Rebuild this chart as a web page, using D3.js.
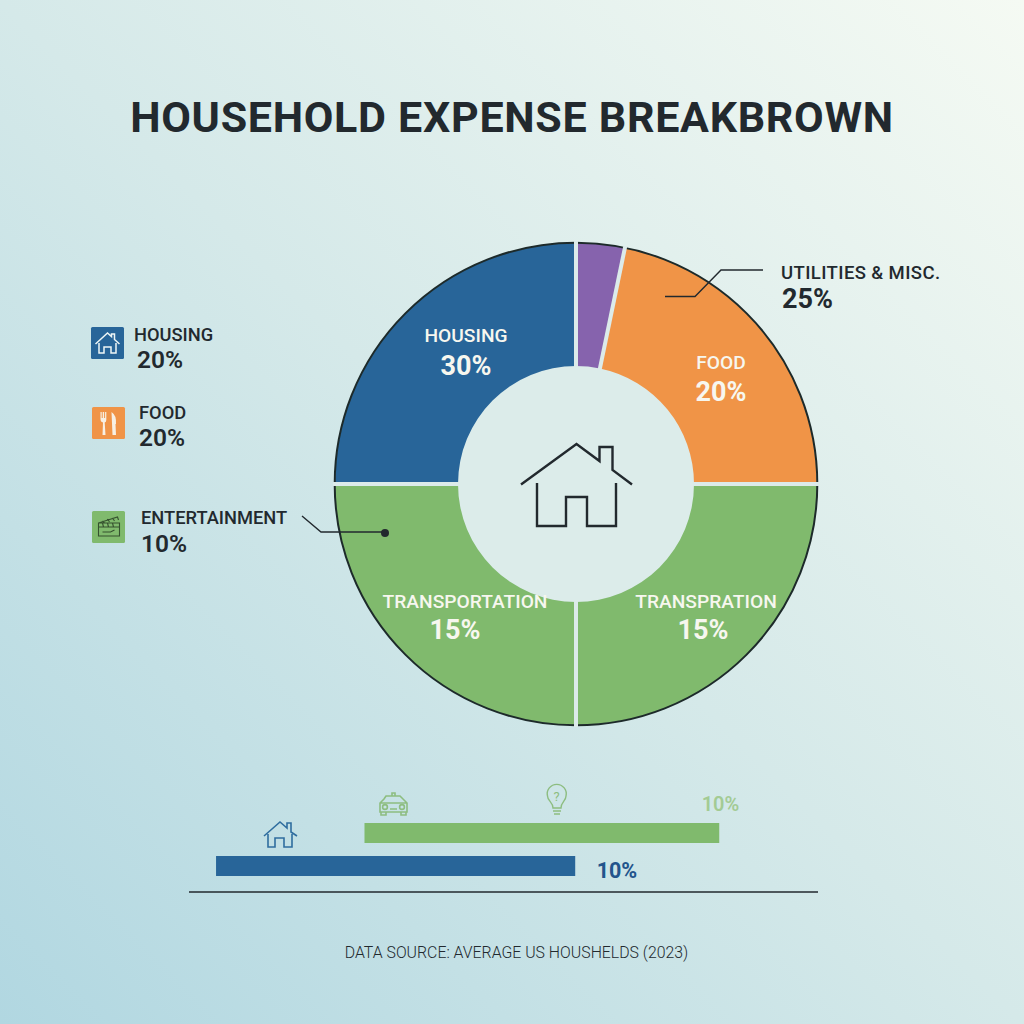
<!DOCTYPE html>
<html><head><meta charset="utf-8">
<style>html,body{margin:0;padding:0;background:#d5e9e9}svg{display:block}text{font-family:Roboto,sans-serif}</style>
<script src="https://cdn.jsdelivr.net/npm/d3@7"></script></head>
<body><svg id="c" width="1024" height="1024"></svg>
<script>
const titleText = "HOUSEHOLD EXPENSE BREAKBROWN";
const sourceText = "DATA SOURCE: AVERAGE US HOUSHELDS (2023)";
const sliceNames = ["Misc","Food","Transpration","Transportation","Housing"];
const sliceValues = [3.25,21.75,25,25,25];
const sliceColors = ["#8663ad","#f09447","#80ba6d","#80ba6d","#286599"];
const sliceLabels = ["","FOOD","TRANSPRATION","TRANSPORTATION","HOUSING"];
const slicePercents = ["","20%","15%","15%","30%"];
const legendNames = ["HOUSING","FOOD","ENTERTAINMENT"];
const legendPercents = ["20%","20%","10%"];
const legendColors = ["#286599","#f09447","#80ba6d"];
const barNames = ["Upper","Lower"];
const barStarts = [27.9,4.3];
const barEnds = [84.3,61.4];
const barColors = ["#80ba6d","#286599"];
const barLabels = ["10%","10%"];
const barLabelColors = ["#a3cb94","#23548c"];

const svg = d3.select("#c");
const defs = svg.append("defs");
const bg = defs.append("linearGradient").attr("id","bg").attr("x1","0").attr("y1","1").attr("x2","1").attr("y2","0");
[[0,"#b1d7e1"],[0.5,"#d5e9e9"],[1,"#f5faf3"]].forEach(s=>bg.append("stop").attr("offset",s[0]).attr("stop-color",s[1]));
svg.append("rect").attr("width",1024).attr("height",1024).attr("fill","url(#bg)");
const ink = "#22292e";

svg.append("text").attr("x",512).attr("y",131.5).attr("text-anchor","middle")
  .attr("font-size",43).attr("font-weight",700).attr("letter-spacing",0.7).attr("fill",ink).text(titleText);

const cx=576, cy=484, R=241, r0=118;
const g = svg.append("g").attr("transform",`translate(${cx},${cy})`);
const pie = d3.pie().sort(null).value(d=>d)(sliceValues);
const arc = d3.arc().innerRadius(r0).outerRadius(R);
g.append("circle").attr("r",r0).attr("fill","#dcecea");
g.selectAll("path.s").data(pie).join("path").attr("class","s")
  .attr("d",arc).attr("fill",(d,i)=>sliceColors[i]);
g.append("circle").attr("r",R+0.3).attr("fill","none").attr("stroke","#1d2a2a").attr("stroke-width",2);
g.selectAll("line.sep").data(pie).join("line").attr("class","sep")
  .attr("x1",d=>(r0-1)*Math.sin(d.startAngle)).attr("y1",d=>-(r0-1)*Math.cos(d.startAngle))
  .attr("x2",d=>(R+2)*Math.sin(d.startAngle)).attr("y2",d=>-(R+2)*Math.cos(d.startAngle))
  .attr("stroke","#dcebea").attr("stroke-width",4);
// label x, name baseline, percent x, percent baseline
const labelPos = [null,[145,-115,145,-83],[130,124,127,155],[-111,124,-121,155],[-110,-142,-110,-109]];
pie.forEach((d,i)=>{
  if(!sliceLabels[i]) return;
  const p = labelPos[i];
  g.append("text").attr("x",p[0]).attr("y",p[1]).attr("text-anchor","middle")
    .attr("font-size",19.2).attr("font-weight",500).attr("fill","#f7f7ef").text(sliceLabels[i]);
  g.append("text").attr("x",p[2]).attr("y",p[3]).attr("text-anchor","middle")
    .attr("font-size",27).attr("font-weight",700).attr("fill","#f7f7ef").text(slicePercents[i]);
});

svg.append("path").attr("fill","none").attr("stroke",ink).attr("stroke-width",2.4)
  .attr("d","M521 484.5 L576.5 444 L599.5 461 V447 H612.5 V470 L632 484.5 M537 483 V526 H566 V497 H587 V526 H616 V483");

const legY=[343,423,527], legX=[91,92,92], txtX=[134,139,141], iconFn=[houseIcon,forkIcon,clapIcon];
legendNames.forEach((n,i)=>{
  svg.append("rect").attr("x",legX[i]).attr("y",legY[i]-16).attr("width",33).attr("height",32).attr("rx",1.5).attr("fill",legendColors[i]);
  iconFn[i](legX[i]+16.5,legY[i]);
  svg.append("text").attr("x",txtX[i]).attr("y",[341,418.5,524][i]).attr("font-size",18.3).attr("font-weight",500).attr("fill",ink).text(n);
  svg.append("text").attr("x",txtX[i]+(i==0?3:0)).attr("y",[368,446,552][i]).attr("font-size",24.5).attr("font-weight",600).attr("fill",ink).text(legendPercents[i]);
});
function houseIcon(x,y){
  svg.append("path").attr("fill","none").attr("stroke","#eef6f6").attr("stroke-width",1.5)
   .attr("transform",`translate(${x},${y})`)
   .attr("d","M-12 1 L0 -10 L4 -6.5 V-9 H7 V-3.5 L12 1 M-8.5 0 V10 H-3.5 V4 H3.5 V10 H8.5 V0");
}
function forkIcon(x,y){
  const t=svg.append("g").attr("transform",`translate(${x},${y})`).attr("fill","#f7f0e4");
  t.append("path").attr("d","M-8 -11 h1.2 v6 h1 v-6 h1.4 v6 h1 v-6 h1.2 v8 q0 2 -1.6 2.5 L-3 12 h-3 L-5.5 -0.5 Q-8 -1 -8 -4 Z");
  t.append("path").attr("d","M3 -11 Q8 -8 7.5 1 H7 L7.5 12 H4 Z");
}
function clapIcon(x,y){
  svg.append("path").attr("fill","none").attr("stroke","#35512f").attr("stroke-width",1.1)
   .attr("transform",`translate(${x},${y})`)
   .attr("d","M-10 -4 H11 V0 H-10 Z M-10 -4 L9 -10 L10 -7 M-6 -6 L-4 -4 M-1 -8 L1 -5 M4 -9 L6 -6 M-6 -4 L-5 0 M-1 -4 L0 0 M4 -4 L5 0 M-10 0 V9 H11 V0 M-6 5 H2 L6 3");
}

const leader = svg.append("g").attr("fill","none").attr("stroke",ink).attr("stroke-width",1.4);
leader.append("path").attr("d","M302 516 L321 532 H385");
svg.append("circle").attr("cx",385).attr("cy",533).attr("r",4).attr("fill",ink);
leader.append("path").attr("d","M665 296.5 H695 L721 270 H763");
svg.append("text").attr("x",781).attr("y",279).attr("font-size",18.5).attr("font-weight",500).attr("letter-spacing",0.4).attr("fill",ink).text("UTILITIES & MISC.");
svg.append("text").attr("x",782).attr("y",308).attr("font-size",27).attr("font-weight",700).attr("fill",ink).text("25%");

const x = d3.scaleLinear().domain([0,100]).range([189,818]);
const y = d3.scaleBand().domain(barNames).range([823,876]).paddingInner(0.394).paddingOuter(0);
svg.selectAll("rect.b").data(barNames).join("rect").attr("class","b")
  .attr("x",(d,i)=>x(barStarts[i])).attr("width",(d,i)=>x(barEnds[i])-x(barStarts[i]))
  .attr("y",d=>y(d)).attr("height",y.bandwidth()).attr("fill",(d,i)=>barColors[i]);
svg.append("line").attr("x1",x(0)).attr("x2",x(100)).attr("y1",892).attr("y2",892).attr("stroke",ink).attr("stroke-width",1.6);
svg.append("text").attr("x",720.5).attr("y",811).attr("text-anchor","middle").attr("font-size",20).attr("font-weight",600).attr("fill",barLabelColors[0]).text(barLabels[0]);
svg.append("text").attr("x",617).attr("y",878).attr("text-anchor","middle").attr("font-size",21.5).attr("font-weight",700).attr("fill",barLabelColors[1]).text(barLabels[1]);
svg.append("path").attr("fill","none").attr("stroke","#2f6d9f").attr("stroke-width",1.6)
  .attr("d","M264 836 L280 822 L287 828 V823 H291 V832 L297 836 M268 834 V847 H275 V838 H284 V847 H292 V834");
const car = svg.append("g").attr("fill","none").attr("stroke","#8dbd80").attr("stroke-width",1.6);
car.append("path").attr("d","M380 812 V803 L384 799 L386 796 H400 L403 799 L407 803 V812 Z M380 803 H407 M392 796 V793 H395 V796 M381 812 V815 H386 V812 M401 812 V815 H406 V812 M390 809 H397");
car.append("circle").attr("cx",385).attr("cy",807).attr("r",2.4);
car.append("circle").attr("cx",402).attr("cy",807).attr("r",2.4);
const bulb = svg.append("g").attr("fill","none").attr("stroke","#8dbd80").attr("stroke-width",1.4);
bulb.append("path").attr("d","M553 808 C553 802 547.5 801 547.5 796 A9.5 9.5 0 1 1 566 796 C566 801 561 802 561 808 Z M553 811 H561 M554 814 H560");
svg.append("text").attr("x",556.7).attr("y",801).attr("text-anchor","middle").attr("font-size",13).attr("fill","#8dbd80").text("?");

svg.append("text").attr("x",516.5).attr("y",958).attr("text-anchor","middle").attr("font-size",15.85).attr("font-weight",300).attr("fill",ink).text(sourceText);
</script></body></html>
